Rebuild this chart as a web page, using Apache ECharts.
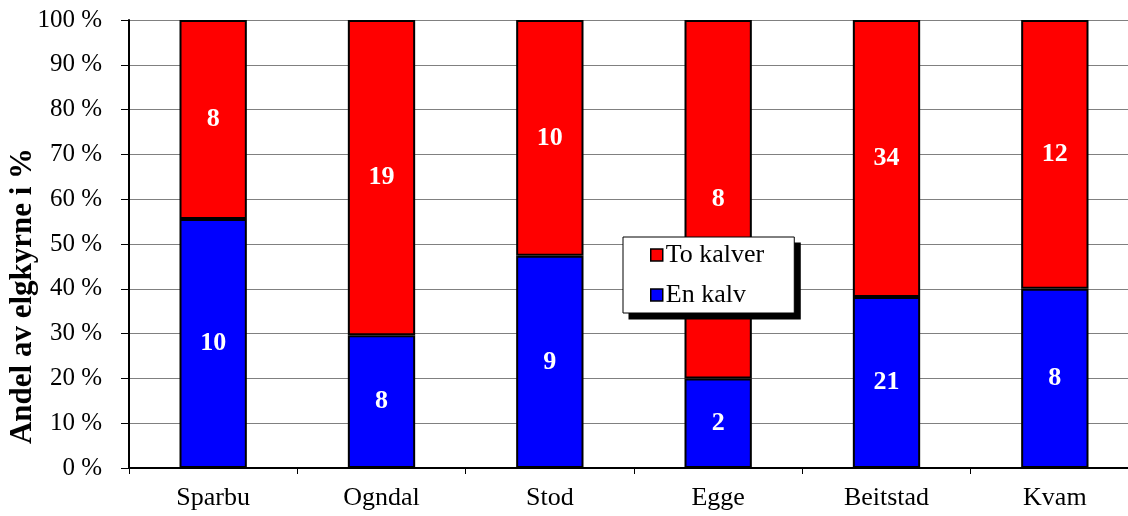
<!DOCTYPE html>
<html>
<head>
<meta charset="utf-8">
<script src="https://cdn.jsdelivr.net/npm/echarts@6/dist/echarts.min.js"></script>
<style>
  html, body { margin: 0; padding: 0; background: #fff; }
  #chart { width: 1128px; height: 516px; }
</style>
</head>
<body>
<div id="chart"></div>
<script>
// Moose cows by number of calves, per area (counts)
const areas = ['Sparbu', 'Ogndal', 'Stod', 'Egge', 'Beitstad', 'Kvam'];
const enKalv = [10, 8, 9, 2, 21, 8];
const toKalver = [8, 19, 10, 8, 34, 12];
const yTicks = [0, 10, 20, 30, 40, 50, 60, 70, 80, 90, 100];

const FONT = '"Liberation Serif", "Times New Roman", serif';

// Share of each group in percent of the area's total
const pct = (arr) => arr.map((v, i) => v / (enKalv[i] + toKalver[i]) * 100);

const labelStyle = {
  show: true,
  position: 'inside',
  color: '#fff',
  fontFamily: FONT,
  fontWeight: 'bold',
  fontSize: 26
};

const chart = echarts.init(document.getElementById('chart'));

function legendShadow() {
  // Solid drop shadow placed behind the legend box, sized from the rendered legend
  const view = chart.getViewOfComponentModel(chart.getModel().getComponent('legend'));
  const r = view.group.getBoundingRect();
  const x = view.group.x + r.x, y = view.group.y + r.y;
  chart.setOption({
    graphic: [{
      id: 'legendShadow', type: 'rect', z: 3, silent: true,
      shape: { x: x + 6, y: y + 6, width: r.width, height: r.height },
      style: { fill: '#000' }
    }]
  });
}

chart.setOption({
  animation: false,
  textStyle: { fontFamily: FONT },
  grid: {
    left: 129, top: 20, right: -11, bottom: 48,
    containLabel: false, outerBoundsMode: 'none'
  },
  legend: {
    z: 5,
    orient: 'vertical',
    left: 623,
    top: 237,
    icon: 'rect',
    itemWidth: 12,
    itemHeight: 12,
    itemGap: 14,
    padding: [5, 30, 5, 27],
    backgroundColor: '#fff',
    borderColor: '#000',
    borderWidth: 1,
    textStyle: { fontFamily: FONT, fontSize: 26, color: '#000', padding: [0, 0, 0, -2] },
    data: [
      { name: 'To kalver', itemStyle: { borderColor: '#000', borderWidth: 1.5 } },
      { name: 'En kalv', itemStyle: { borderColor: '#000', borderWidth: 1.5 } }
    ]
  },
  xAxis: {
    type: 'category',
    data: areas,
    axisLine: { show: true, lineStyle: { color: '#000', width: 2 } },
    axisTick: { show: true, length: 6, lineStyle: { color: '#000' } },
    axisLabel: { color: '#000', fontFamily: FONT, fontSize: 26, margin: 17 }
  },
  yAxis: {
    type: 'value',
    min: 0,
    max: 100,
    interval: 10,
    name: 'Andel av elgkyrne i %',
    nameLocation: 'middle',
    nameGap: 91,
    nameMoveOverlap: false,
    nameTextStyle: {
      fontFamily: FONT, fontWeight: 'bold', fontSize: 31, color: '#000',
      padding: [0, 104, 0, 0]
    },
    axisLine: { show: true, lineStyle: { color: '#000', width: 2 } },
    axisTick: { show: true, length: 8, lineStyle: { color: '#000' } },
    axisLabel: {
      color: '#000', fontFamily: FONT, fontSize: 25, margin: 27,
      formatter: (v) => yTicks.includes(v) ? v + ' %' : ''
    },
    splitLine: { show: true, lineStyle: { color: '#808080', width: 1 } }
  },
  series: [
    {
      name: 'En kalv',
      type: 'bar',
      stack: 'total',
      barWidth: '40%',
      data: pct(enKalv),
      itemStyle: { color: '#0000ff', borderColor: '#000', borderWidth: 2 },
      label: { ...labelStyle, formatter: (p) => String(enKalv[p.dataIndex]) }
    },
    {
      name: 'To kalver',
      type: 'bar',
      stack: 'total',
      barWidth: '40%',
      data: pct(toKalver),
      itemStyle: { color: '#ff0000', borderColor: '#000', borderWidth: 2 },
      label: { ...labelStyle, formatter: (p) => String(toKalver[p.dataIndex]) }
    }
  ]
});

try {
  legendShadow();
} catch (e) {
  chart.setOption({
    graphic: [{
      id: 'legendShadow', type: 'rect', z: 3, silent: true,
      shape: { x: 629, y: 243, width: 173, height: 75 },
      style: { fill: '#000' }
    }]
  });
}
</script>
</body>
</html>
